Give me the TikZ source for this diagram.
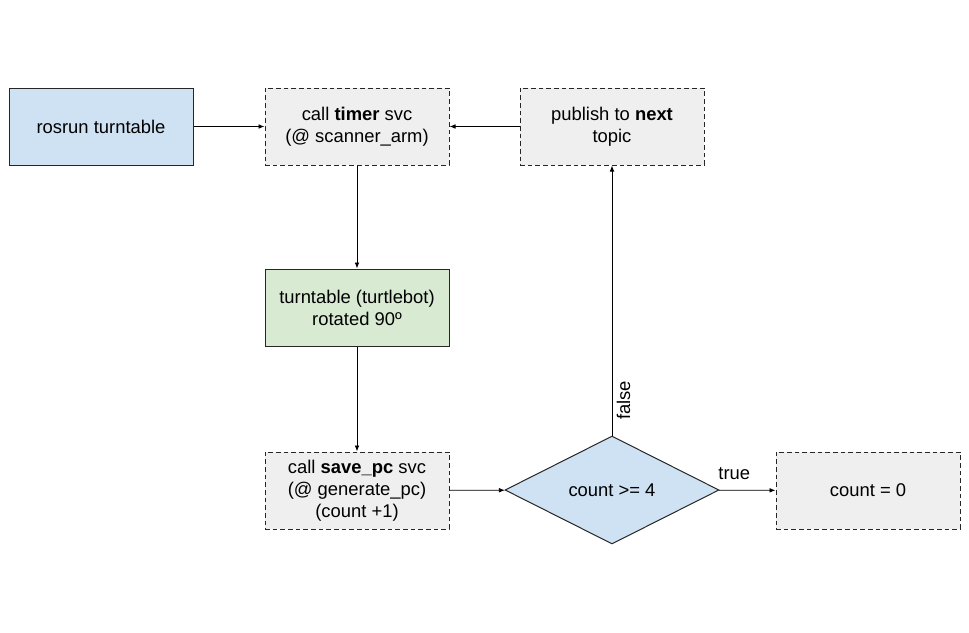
\documentclass[tikz,border=0pt]{standalone}
\usepackage{fontspec}
\setmainfont{Liberation Sans}
\usetikzlibrary{shapes.geometric,arrows.meta}

\definecolor{runblue}{HTML}{CFE2F3}
\definecolor{turngreen}{HTML}{D9EAD3}
\definecolor{callgrey}{HTML}{EFEFEF}

\tikzset{
	stepbox/.style={draw=black!85, line width=0.75pt, minimum width=138pt, minimum height=57.75pt,
		inner sep=0pt, align=center, font=\fontsize{13.8}{16.5}\selectfont},
	callbox/.style={stepbox, fill=callgrey, dash pattern=on 3.5pt off 2.25pt},
	link/.style={-{Latex[length=4.5pt,width=3.5pt]}, line width=0.6pt}
}

\begin{document}
\begin{tikzpicture}[x=0.75pt, y=-0.75pt]
	\useasboundingbox (0,0) rectangle (969,632);
	
	\node[stepbox, fill=runblue] (run) at (101,126.5) {rosrun turntable};
	\node[callbox] (timer) at (357,126.5) {call \textbf{timer} svc\\(@ scanner\_arm)};
	\node[callbox] (publish) at (612,126.5) {publish to \textbf{next}\\topic};
	\node[stepbox, fill=turngreen] (turn) at (357,307.5) {turntable (turtlebot)\\rotated 90º};
	\node[callbox] (save) at (357,490.5) {call \textbf{save\_pc} svc\\(@ generate\_pc)\\(count +1)};
	\node[diamond, draw=black!85, line width=0.75pt, fill=runblue, aspect=2, inner sep=0pt,
		minimum width=160.5pt, minimum height=81pt, font=\fontsize{13.8}{16.5}\selectfont]
		(check) at (612,490) {count >= 4};
	\node[callbox] (reset) at (868,490.5) {count = 0};
	
	\draw[link] (run) -- (timer);
	\draw[link] (publish) -- (timer);
	\draw[link] (timer) -- (turn);
	\draw[link] (turn) -- (save);
	\draw[link] (save) -- (check);
	\draw[link] (check) -- node[pos=0.27, above=4pt, font=\fontsize{13.8}{16.5}\selectfont] {true} (reset);
	\draw[link] (check) -- node[pos=0.13, rotate=90, anchor=north, font=\fontsize{13.8}{16.5}\selectfont] {false} (publish);
	
\end{tikzpicture}
\end{document}
